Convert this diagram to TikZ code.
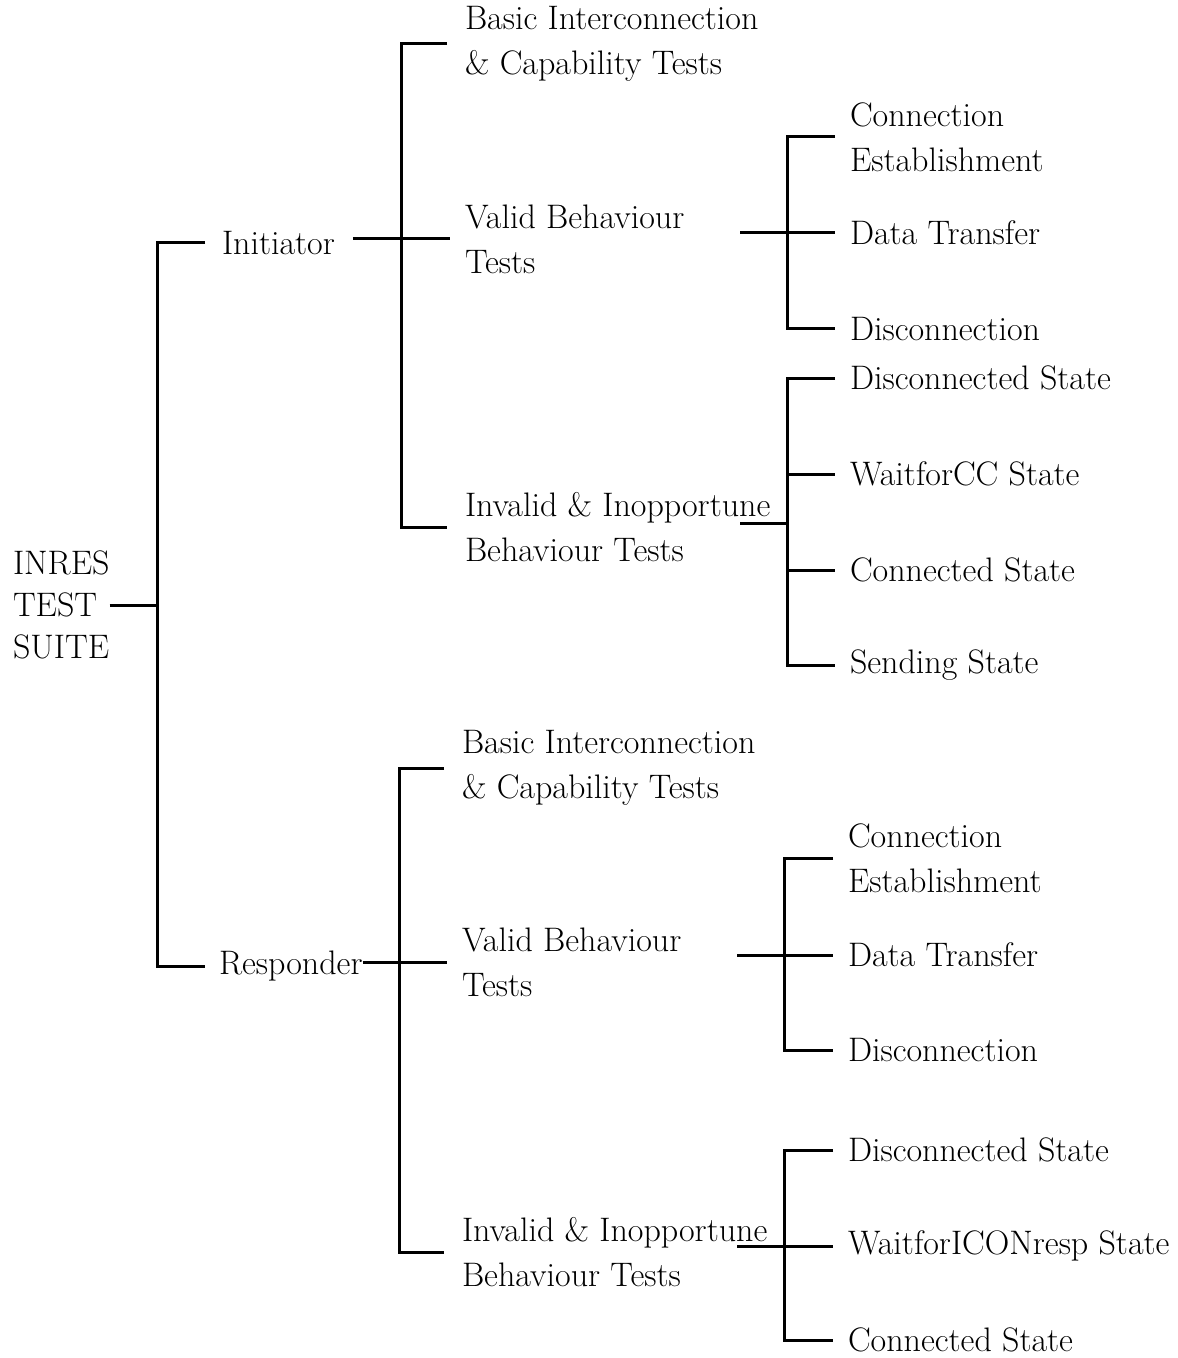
\documentclass[tikz,border=0pt]{standalone}
\usepackage{fontspec}
\begin{document}
\begin{tikzpicture}[x=0.5pt,y=-0.5pt,
  wire/.style={line width=1.5pt},
  lbl/.style={anchor=west,inner sep=0pt,outer sep=0pt,align=left,
    font=\fontsize{17}{22.5}\selectfont}]
\useasboundingbox (0,0) rectangle (1177,1358);

% ---------- labels ----------
\node[lbl,font=\fontsize{17}{21}\selectfont] (root) at (13,605) {INRES\\TEST\\SUITE};
\node[lbl] (ini)  at (222,243) {Initiator};
\node[lbl] (resp) at (219,966) {Responder};

% initiator branch
\node[lbl] (ib) at (465,44)  {Basic Interconnection\\\& Capability Tests};
\node[lbl] (iv) at (465,239) {Valid Behaviour\\Tests};
\node[lbl] (ii) at (465,527) {Invalid \& Inopportune\\Behaviour Tests};

\node[lbl] (ivc) at (850,137) {Connection\\Establishment};
\node[lbl] (ivd) at (850,233) {Data Transfer};
\node[lbl] (ivx) at (850,329) {Disconnection};

\node[lbl] (iia) at (850,378) {Disconnected State};
\node[lbl] (iib) at (850,474) {WaitforCC State};
\node[lbl] (iic) at (850,570) {Connected State};
\node[lbl] (iid) at (850,665) {Sending State};

% responder branch
\node[lbl] (rb) at (462,768)  {Basic Interconnection\\\& Capability Tests};
\node[lbl] (rv) at (462,962)  {Valid Behaviour\\Tests};
\node[lbl] (ri) at (462,1252) {Invalid \& Inopportune\\Behaviour Tests};

\node[lbl] (rvc) at (848,858)  {Connection\\Establishment};
\node[lbl] (rvd) at (848,955)  {Data Transfer};
\node[lbl] (rvx) at (848,1050) {Disconnection};

\node[lbl] (ria) at (848,1150) {Disconnected State};
\node[lbl] (rib) at (848,1246) {WaitforICONresp State};
\node[lbl] (ric) at (848,1340) {Connected State};

% ---------- bar positions ----------
\coordinate (bar0) at (157,0);
\coordinate (bari) at (401,0);
\coordinate (barr) at (399,0);
\coordinate (bariv) at (787,0);
\coordinate (barii) at (787,0);
\coordinate (barrv) at (784,0);
\coordinate (barri) at (784,0);
\coordinate (iv-out) at (740,233);
\coordinate (ii-out) at (740,523);
\coordinate (rv-out) at (737,955);
\coordinate (ri-out) at (737,1246);

% ---------- connectors ----------
% root level
\draw[wire] (root.east) -- (root.east -| bar0);
\draw[wire] ([xshift=-8.5pt]ini.west) -- (ini.west -| bar0) -- (resp.west -| bar0)
            -- ([xshift=-7pt]resp.west);

% initiator level
\draw[wire] ([xshift=-9pt]ib.west) -- (ib.west -| bari) -- (ii.west -| bari)
            -- ([xshift=-9pt]ii.west);
\draw[wire] ([xshift=9pt]ini.east |- iv.west) -- ([xshift=-7.5pt]iv.west);

\draw[wire] ([xshift=-7.5pt]ivc.west) -- (ivc.west -| bariv) -- (ivx.west -| bariv)
            -- ([xshift=-7.5pt]ivx.west);
\draw[wire] (iv-out) -- ([xshift=-7.5pt]ivd.west);

\draw[wire] ([xshift=-7.5pt]iia.west) -- (iia.west -| barii) -- (iid.west -| barii)
            -- ([xshift=-7.5pt]iid.west);
\draw[wire] (iib.west -| barii) -- ([xshift=-7.5pt]iib.west);
\draw[wire] (iic.west -| barii) -- ([xshift=-7.5pt]iic.west);
\draw[wire] (ii-out) -- (ii-out -| barii);

% responder level
\draw[wire] ([xshift=-9pt]rb.west) -- (rb.west -| barr) -- (ri.west -| barr)
            -- ([xshift=-9pt]ri.west);
\draw[wire] (resp.east |- rv.west) -- ([xshift=-7.5pt]rv.west);

\draw[wire] ([xshift=-7.5pt]rvc.west) -- (rvc.west -| barrv) -- (rvx.west -| barrv)
            -- ([xshift=-7.5pt]rvx.west);
\draw[wire] (rv-out) -- ([xshift=-7.5pt]rvd.west);

\draw[wire] ([xshift=-7.5pt]ria.west) -- (ria.west -| barri) -- (ric.west -| barri)
            -- ([xshift=-7.5pt]ric.west);
\draw[wire] (ri-out) -- ([xshift=-7.5pt]rib.west);
\end{tikzpicture}
\end{document}
